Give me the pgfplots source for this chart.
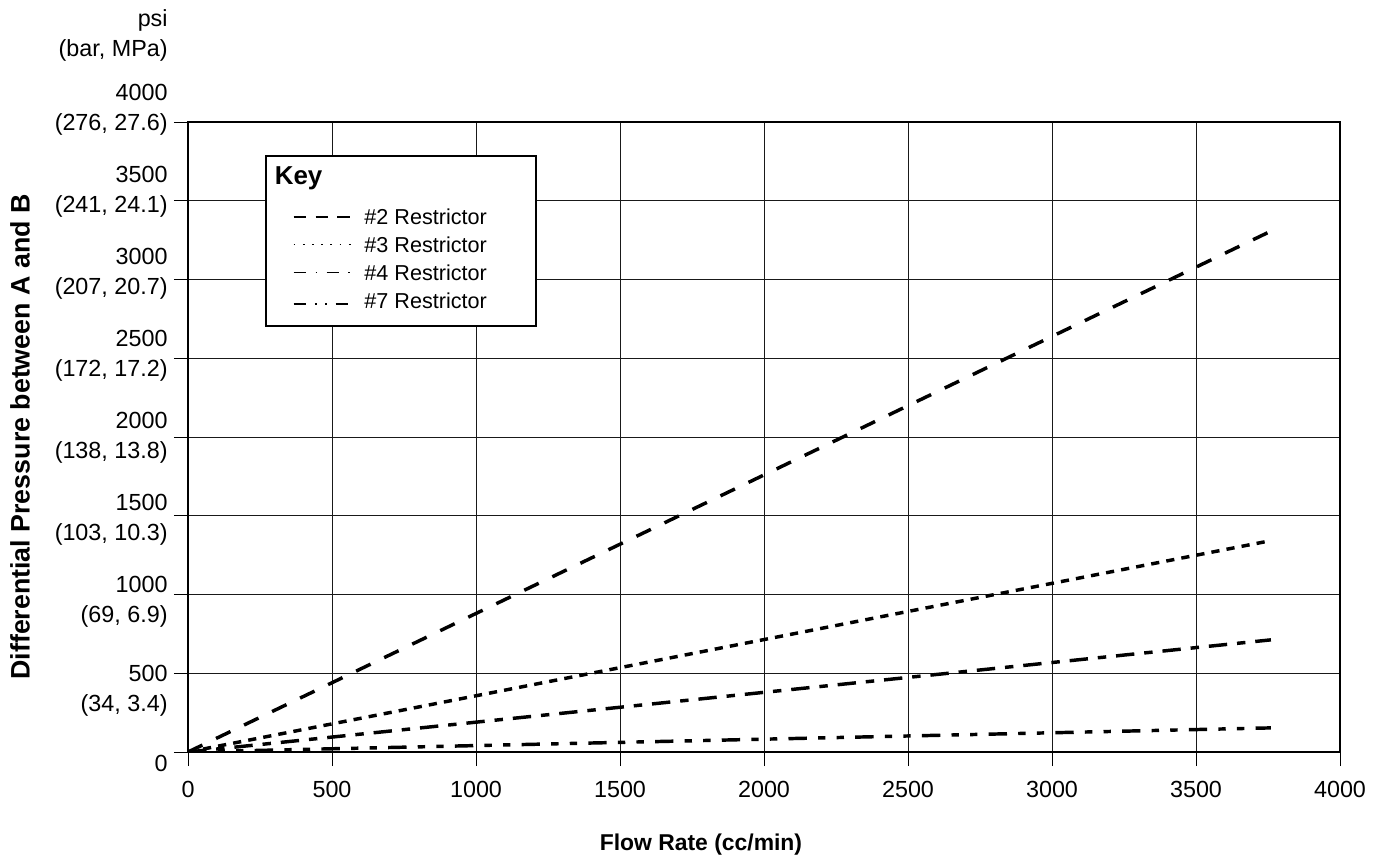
\documentclass[border=0pt]{standalone}
\usepackage{fontspec}
\setmainfont{Liberation Sans}
\usepackage{pgfplots}
\pgfplotsset{compat=1.18}
\pgfplotsset{
  legimg/.style={line width=0.7pt, black, legend image code/.code={\path[draw=none] (0pt,0pt) -- (7.9pt,0pt); \draw[##1] (7.9pt,0pt) -- (34.3pt,0pt);}},
  legimglast/.style={line width=0.7pt, black, legend image code/.code={\path[draw=none] (0pt,-3.35pt) -- (7.9pt,0pt); \draw[##1] (7.9pt,0pt) -- (34.3pt,0pt);}},
}
\begin{document}
\begin{tikzpicture}
\begin{axis}[
  scale only axis,
  width=533.4pt, height=291.7pt,
  xmin=0, xmax=4000, ymin=0, ymax=4000,
  xtick={0,500,1000,1500,2000,2500,3000,3500,4000},
  ytick={0,500,1000,1500,2000,2500,3000,3500,4000},
  yticklabels={0,{500\\(34, 3.4)},{1000\\(69, 6.9)},{1500\\(103, 10.3)},{2000\\(138, 13.8)},{2500\\(172, 17.2)},{3000\\(207, 20.7)},{3500\\(241, 24.1)},{4000\\(276, 27.6)}},
  xmajorgrids, ymajorgrids,
  grid style={line width=0.45pt, black!90},
  axis line style={line width=0.9pt, black},
  major tick style={line width=0.45pt, black},
  tick align=outside,
  major tick length=6.5pt,
  xtick pos=left, ytick pos=left,
  /pgf/number format/1000 sep={},
  /pgf/number format/assume math mode=true,
  tick label style={font=\fontsize{10.8}{13.9}\selectfont},
  xticklabel style={anchor=north, inner sep=0pt, yshift=-6.75pt},
  yticklabel style={anchor=east, align=right, inner sep=0pt, xshift=-2.76pt, yshift={(\ticknum-4)*1.5pt-0.2pt-(\ticknum==1)*3.2pt+(\ticknum==0)*1pt}},
  xlabel={Flow Rate (cc/min)},
  ylabel={Differential Pressure between A and B},
  xlabel style={font=\fontsize{10.6}{12}\selectfont\bfseries, at={(axis description cs:0.4453,-0.1476)}, anchor=center},
  ylabel style={font=\fontsize{12.4}{14}\selectfont\bfseries, at={(axis description cs:-0.1458,0.5)}, anchor=center},
  legend style={at={(axis cs:267,3791)}, anchor=north west, draw=black, line width=0.9pt, fill=white,
    inner xsep=5pt, inner ysep=5pt, row sep=5.55pt, column sep=6pt,
    font=\fontsize{10}{12}\selectfont, cells={anchor=west}, nodes={inner sep=0pt, text depth=}},
  legend cell align=left,
]
\addplot[forget plot, line width=1.6pt, dash pattern=on 7.4pt off 7pt] coordinates {(0,0) (3760,3307)};
\addplot[forget plot, line width=1.6pt, dash pattern=on 3.8pt off 3.3pt] coordinates {(0,0) (3760,1342)};
\addplot[forget plot, line width=1.6pt, dash pattern=on 8.5pt off 4.6pt on 3.9pt off 4.6pt] coordinates {(0,0) (3760,712)};
\addplot[forget plot, line width=1.6pt, dash pattern=on 8.5pt off 5.2pt on 3.4pt off 5.2pt on 3.4pt off 5.2pt] coordinates {(0,0) (3760,153)};

\addlegendimage{empty legend}
\addlegendentry{\makebox[0pt][l]{\hspace*{-42pt}\fontsize{12}{14}\selectfont\bfseries Key}\rule[-5.75pt]{0pt}{0pt}}
\addlegendimage{legimg, dash pattern=on 5.9pt off 4.2pt}
\addlegendentry{\#2 Restrictor\hspace*{17.7pt}}
\addlegendimage{legimg, dash pattern=on 0.8pt off 3.45pt}
\addlegendentry{\#3 Restrictor}
\addlegendimage{legimg, dash pattern=on 5.9pt off 4.2pt on 0.9pt off 4.2pt}
\addlegendentry{\#4 Restrictor}
\addlegendimage{legimglast, dash pattern=on 5.9pt off 3.9pt on 0.9pt off 3.9pt on 0.9pt off 3.9pt}
\addlegendentry{\#7 Restrictor\rule[-3.35pt]{0pt}{0pt}}

\coordinate (psipos) at (axis description cs:-0.01736,1.138);
\coordinate (bbsw) at (axis cs:-652.8,-704.8);
\coordinate (bbne) at (axis cs:4118,4774.6);
\end{axis}
\node[anchor=east, align=right, inner sep=0pt, font=\fontsize{10.8}{13.9}\selectfont] at (psipos) {psi\\(bar, MPa)};
\pgfresetboundingbox
\path[use as bounding box] (bbsw) rectangle (bbne);
\end{tikzpicture}
\end{document}
